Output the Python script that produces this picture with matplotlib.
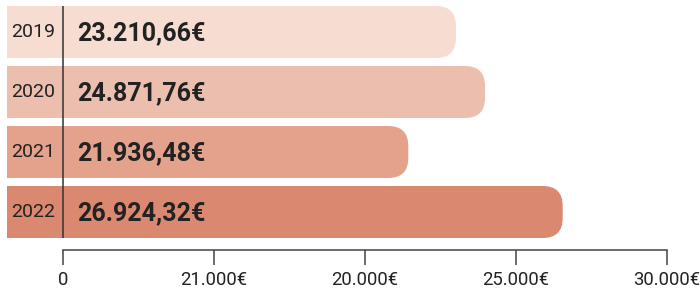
import matplotlib.pyplot as plt
from matplotlib.patches import FancyBboxPatch, Rectangle

years = ['2019', '2020', '2021', '2022']
amounts = ['23.210,66€', '24.871,76€', '21.936,48€', '26.924,32€']
# bar ends
bar_len = [19520, 20960, 17150, 24820]
colors = ['#f6dcd1', '#ecbead', '#e4a18b', '#db8871']
tick_pos = [0, 7500, 15000, 22500, 30000]
tick_labels = ['0', '21.000€', '20.000€', '25.000€', '30.000€']

plt.rcParams['font.family'] = ['Roboto', 'DejaVu Sans']

fig = plt.figure(figsize=(7, 2.91), dpi=100)
ax = fig.add_axes([63/700, 41/291, 604/700, 250/291])
ax.set_xlim(0, 30000)
ax.set_ylim(3.6333, -0.5333)

xpp = 30000/604   # x units per pixel
ypp = 1/60        # y units per pixel
h = 52*ypp
left = -56*xpp
r = 20*xpp

for i in range(len(years)):
    y0 = i - h/2
    w = bar_len[i] - left
    ax.add_patch(FancyBboxPatch((left, y0), w, h,
                                boxstyle=f"round,pad=0,rounding_size={r}",
                                mutation_aspect=ypp/xpp, fc=colors[i], ec='none',
                                clip_on=False, zorder=1))
    ax.add_patch(Rectangle((left, y0), w/2, h, fc=colors[i], ec='none',
                           clip_on=False, zorder=1))
    ax.text(-29.5*xpp, i, years[i], ha='center', va='center', fontsize=14,
            color='#222222', zorder=3)
    ax.text(14*xpp, i + 1*ypp, amounts[i], ha='left', va='center', fontsize=18,
            fontweight='bold', color='#222222', zorder=3)

ax.plot([0, 0], [-h/2, 3 + h/2], color='#333333', lw=1.1, zorder=2,
        clip_on=False, solid_capstyle='butt')

for s in ['top', 'right', 'left']:
    ax.spines[s].set_visible(False)
ax.spines['bottom'].set_color('#444444')
ax.spines['bottom'].set_linewidth(1.1)
ax.set_yticks([])
ax.set_xticks(tick_pos)
ax.set_xticklabels(tick_labels)
ax.tick_params(axis='x', direction='out', length=11, width=1.1, color='#444444',
               labelsize=13.3, labelcolor='#222222', pad=4)
ax.patch.set_alpha(0)

fig.savefig('out.png', dpi=100)
